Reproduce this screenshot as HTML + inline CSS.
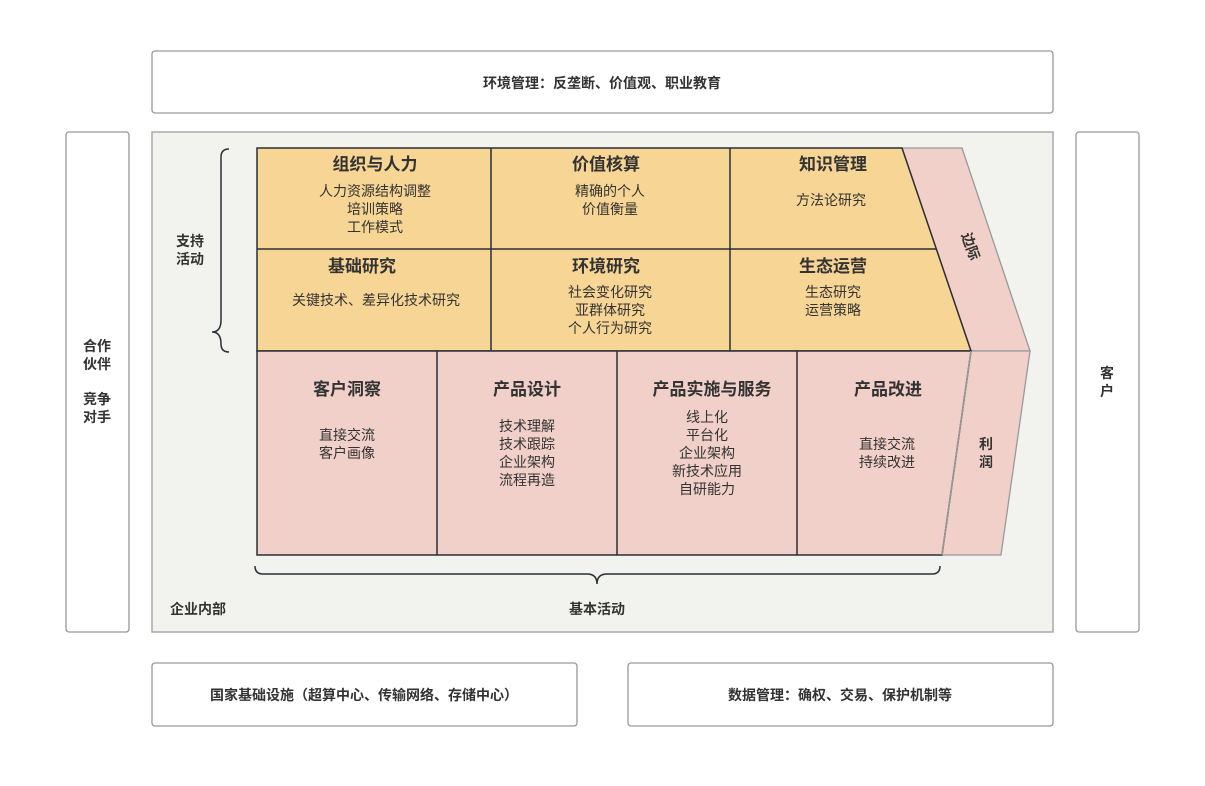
<!DOCTYPE html>
<html><head><meta charset="utf-8"><style>
body{margin:0;background:#fff;}
svg text{font-family:"Liberation Sans","Noto Sans CJK SC",sans-serif;fill:#333;}
.t{font-size:17px;font-weight:bold;}
.b{font-size:14px;}
.l{font-size:14px;font-weight:bold;}
</style></head><body>
<svg width="1205" height="781" viewBox="0 0 1205 781" xmlns="http://www.w3.org/2000/svg">
<g fill="#fff" stroke="#999" stroke-width="1.3">
<rect x="152" y="51" width="901" height="62" rx="3"/>
<rect x="66" y="132" width="63" height="500" rx="3"/>
<rect x="1076" y="132" width="63" height="500" rx="3"/>
<rect x="152" y="663" width="425" height="63" rx="3"/>
<rect x="628" y="663" width="425" height="63" rx="3"/>
</g>
<rect x="152" y="132" width="901" height="500" fill="#f2f2ee" stroke="#aaa" stroke-width="1.5"/>
<text class="l" x="602" y="88" text-anchor="middle">环境管理：反垄断、价值观、职业教育</text>
<text class="l" x="364" y="700" text-anchor="middle">国家基础设施（超算中心、传输网络、存储中心）</text>
<text class="l" x="840" y="700" text-anchor="middle">数据管理：确权、交易、保护机制等</text>
<text class="l" x="97" y="351" text-anchor="middle">合作</text>
<text class="l" x="97" y="369" text-anchor="middle">伙伴</text>
<text class="l" x="97" y="404" text-anchor="middle">竞争</text>
<text class="l" x="97" y="422" text-anchor="middle">对手</text>
<text class="l" x="1107" y="378" text-anchor="middle">客</text>
<text class="l" x="1107" y="396" text-anchor="middle">户</text>
<g fill="#f0d0c8" stroke="#999" stroke-width="1.3">
<polygon points="902,148 962,148 1030,351 971,351"/>
<polygon points="971,351 1030,351 1001,555 942,555"/>
</g>
<polygon points="257,148 902,148 971,351 257,351" fill="#f7d595" stroke="#2a2f36" stroke-width="1.5"/>
<g stroke="#2a2f36" stroke-width="1.5">
<line x1="257" y1="249" x2="936" y2="249"/>
<line x1="491" y1="148" x2="491" y2="351"/>
<line x1="730" y1="148" x2="730" y2="351"/>
</g>
<polygon points="257,351 971,351 942,555 257,555" fill="#f0d0c8" stroke="#2a2f36" stroke-width="1.5"/>
<line x1="971" y1="351" x2="942" y2="555" stroke="#999" stroke-width="1.5"/>
<g stroke="#2a2f36" stroke-width="1.5">
<line x1="437" y1="351" x2="437" y2="555"/>
<line x1="617" y1="351" x2="617" y2="555"/>
<line x1="797" y1="351" x2="797" y2="555"/>
</g>
<path d="M229,149 Q221,149 221,157 L221,320 Q221,332 212,332 Q221,332 221,344 L221,344 Q221,352 229,352" fill="none" stroke="#2a2f36" stroke-width="1.5"/>
<path d="M255,566 Q255,574 263,574 L587,574 Q597,574 597,584 Q597,574 607,574 L932,574 Q940,574 940,566" fill="none" stroke="#2a2f36" stroke-width="1.5"/>
<text class="l" x="190" y="246" text-anchor="middle">支持</text>
<text class="l" x="190" y="264" text-anchor="middle">活动</text>
<text class="l" x="198" y="614" text-anchor="middle">企业内部</text>
<text class="l" x="597" y="614" text-anchor="middle">基本活动</text>
<text class="l" transform="translate(966,248) rotate(70)" text-anchor="middle">边际</text>
<text class="l" x="986" y="449" text-anchor="middle">利</text>
<text class="l" x="986" y="467" text-anchor="middle">润</text>
<g text-anchor="middle">
<text class="t" x="375" y="170">组织与人力</text>
<text class="b" x="375" y="196">人力资源结构调整</text>
<text class="b" x="375" y="214">培训策略</text>
<text class="b" x="375" y="232">工作模式</text>
<text class="t" x="606" y="170">价值核算</text>
<text class="b" x="610" y="196">精确的个人</text>
<text class="b" x="610" y="214">价值衡量</text>
<text class="t" x="833" y="170">知识管理</text>
<text class="b" x="831" y="205">方法论研究</text>
<text class="t" x="362" y="272">基础研究</text>
<text class="b" x="376" y="305">关键技术、差异化技术研究</text>
<text class="t" x="606" y="272">环境研究</text>
<text class="b" x="610" y="297">社会变化研究</text>
<text class="b" x="610" y="315">亚群体研究</text>
<text class="b" x="610" y="333">个人行为研究</text>
<text class="t" x="833" y="272">生态运营</text>
<text class="b" x="833" y="297">生态研究</text>
<text class="b" x="833" y="315">运营策略</text>
<text class="t" x="347" y="395">客户洞察</text>
<text class="b" x="347" y="440">直接交流</text>
<text class="b" x="347" y="458">客户画像</text>
<text class="t" x="527" y="395">产品设计</text>
<text class="b" x="527" y="431">技术理解</text>
<text class="b" x="527" y="449">技术跟踪</text>
<text class="b" x="527" y="467">企业架构</text>
<text class="b" x="527" y="485">流程再造</text>
<text class="t" x="712" y="395">产品实施与服务</text>
<text class="b" x="707" y="422">线上化</text>
<text class="b" x="707" y="440">平台化</text>
<text class="b" x="707" y="458">企业架构</text>
<text class="b" x="707" y="476">新技术应用</text>
<text class="b" x="707" y="494">自研能力</text>
<text class="t" x="888" y="395">产品改进</text>
<text class="b" x="887" y="449">直接交流</text>
<text class="b" x="887" y="467">持续改进</text>
</g>
</svg>
</body></html>
